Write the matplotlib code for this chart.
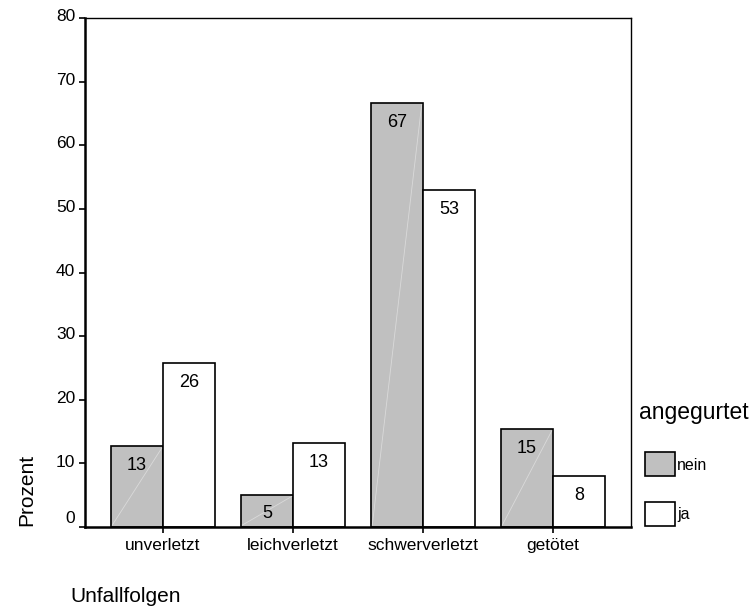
import numpy as np
import matplotlib
matplotlib.use("Agg")
import matplotlib.pyplot as plt
from matplotlib.patches import Rectangle
from matplotlib.transforms import ScaledTranslation

plt.rcParams['font.family'] = ['Liberation Sans', 'DejaVu Sans']

# Unfallfolgen nach Gurtnutzung (Prozent)
categories = ['unverletzt', 'leichverletzt', 'schwerverletzt', 'getötet']
nein = [12.7, 5.1, 66.7, 15.4]
ja = [25.7, 13.2, 52.9, 8.0]
series_names = ['nein', 'ja']
yticks = [0, 10, 20, 30, 40, 50, 60, 70, 80]

gray = '#c0c0c0'
W, H = 751, 615
fig = plt.figure(figsize=(W / 100, H / 100), dpi=100)
ax = fig.add_axes([85 / W, 1 - 527 / H, (631 - 85) / W, (527 - 18) / H])

x = np.arange(len(categories))
width = 0.4
bars_nein = ax.bar(x - width / 2, nein, width, color=gray, edgecolor='black', linewidth=1.2, zorder=2)
bars_ja = ax.bar(x + width / 2, ja, width, color='white', edgecolor='black', linewidth=1.2, zorder=2)

# faint diagonal shading line inside the gray bars
for b in bars_nein:
    x0, h = b.get_x(), b.get_height()
    ax.plot([x0 + 0.01, x0 + b.get_width() - 0.01], [0.3, h - 0.3], color='#dadada', lw=0.6, zorder=3)

for bars in (bars_nein, bars_ja):
    for b in bars:
        h = b.get_height()
        ax.annotate(f'{h:.0f}', (b.get_x() + b.get_width() / 2, h), xytext=(0, -14),
                    textcoords='offset points', ha='center', va='center', fontsize=13, zorder=4)

ax.set_xlim(-0.6, 3.6)
ax.set_ylim(0, 80)
ax.set_yticks(yticks)
ax.set_xticks(x)
ax.set_xticklabels(categories, fontsize=12.5)
ax.tick_params(axis='y', direction='out', length=4, width=1.2, labelsize=12.5, pad=3)
ax.tick_params(axis='x', direction='out', length=4, width=1.2, pad=4)
ylabels = ax.get_yticklabels()
for i, lbl in enumerate(ylabels):
    dy = 7 if i == 0 else 2
    lbl.set_transform(lbl.get_transform() + ScaledTranslation(0, dy / 72, fig.dpi_scale_trans))

ax.spines['left'].set_linewidth(1.8)
ax.spines['bottom'].set_linewidth(1.8)
ax.spines['top'].set_linewidth(1.0)
ax.spines['right'].set_linewidth(1.0)

fig.text(27 / W, 1 - 490 / H, 'Prozent', rotation=90, ha='center', va='center', fontsize=15)
fig.text(70 / W, 1 - 596 / H, 'Unfallfolgen', ha='left', va='center', fontsize=15)

# legend
fig.text(639 / W, 1 - 413 / H, 'angegurtet', ha='left', va='center', fontsize=16.5)
for i, (name, col) in enumerate(zip(series_names, [gray, 'white'])):
    top = 452 + i * 50
    fig.add_artist(Rectangle((645 / W, 1 - (top + 24) / H), 30 / W, 24 / H,
                             transform=fig.transFigure, facecolor=col, edgecolor='black', lw=1.2))
    fig.text(677 / W, 1 - (top + 13) / H, name, ha='left', va='center', fontsize=11.5)

fig.savefig('out.png', dpi=100)
